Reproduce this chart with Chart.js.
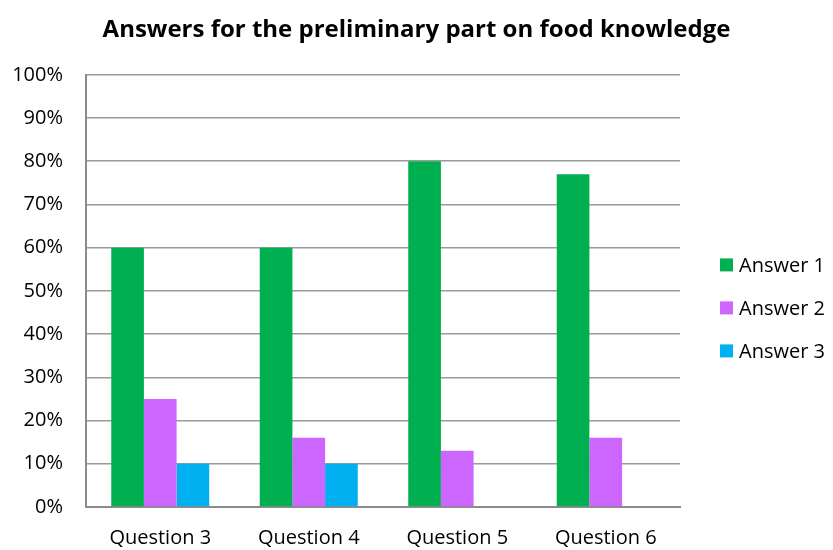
<!DOCTYPE html>
<html>
<head>
<meta charset="utf-8">
<script src="https://cdn.jsdelivr.net/npm/chart.js@4.4.0/dist/chart.umd.min.js"></script>
<style>
  html, body { margin: 0; padding: 0; background: #fff; }
  #wrap { width: 833px; height: 550px; }
</style>
</head>
<body>
<div id="wrap"><canvas id="foodChart"></canvas></div>
<script>
const questions = ['Question 3', 'Question 4', 'Question 5', 'Question 6'];
const answer1 = [60, 60, 80, 77];
const answer2 = [25, 16, 13, 16];
const answer3 = [10, 10, 0, 0];

Chart.defaults.font.family = "'Open Sans', 'Liberation Sans', sans-serif";
Chart.defaults.color = 'black';

// legend drawn by hand to the right of the plot, square swatches
const sideLegend = {
    id: 'sideLegend',
    afterDraw(chart, args, options) {
        const { ctx, chartArea } = chart;
        const x = chartArea.right + options.gap;
        const midY = (chartArea.top + chartArea.bottom) / 2 + options.offsetY;
        const n = chart.data.datasets.length;
        ctx.save();
        ctx.font = options.fontSize + 'px ' + Chart.defaults.font.family;
        ctx.textBaseline = 'middle';
        ctx.textAlign = 'left';
        chart.data.datasets.forEach((ds, i) => {
            const y = midY + (i - (n - 1) / 2) * options.step;
            ctx.fillStyle = ds.backgroundColor;
            ctx.fillRect(x, y - options.box / 2, options.box, options.box);
            ctx.fillStyle = 'black';
            ctx.fillText(ds.label, x + options.box + 6, y + 1);
        });
        ctx.restore();
    }
};

const ctx = document.getElementById('foodChart');
const myChart = new Chart(ctx, {
    type: 'bar',
    data: {
        labels: questions,
        datasets: [{
            label: 'Answer 1',
            data: answer1,
            backgroundColor: '#00B050'
        },
        {
            label: 'Answer 2',
            data: answer2,
            backgroundColor: '#CC66FF'
        },
        {
            label: 'Answer 3',
            data: answer3,
            backgroundColor: '#00B0F0'
        }]
    },
    options: {
        responsive: true,
        maintainAspectRatio: false,
        animation: false,
        layout: {
            padding: 0
        },
        datasets: {
            bar: {
                categoryPercentage: 0.66,
                barPercentage: 1
            }
        },
        scales: {
            x: {
                afterFit(scale) {
                    scale.height = 43;
                },
                grid: { display: false, drawTicks: false },
                border: { color: '#8c8c8c', width: 2 },
                ticks: {
                    padding: 21,
                    font: { size: 20, lineHeight: 1 }
                }
            },
            y: {
                min: 0,
                max: 100,
                afterFit(scale) {
                    scale.width = 86;
                },
                ticks: {
                    stepSize: 10,
                    padding: 23,
                    font: { size: 20 },
                    callback: v => v + '%'
                },
                grid: { color: '#9a9a9a', lineWidth: 1.5, drawTicks: false },
                border: { color: '#8c8c8c', width: 2 }
            },
            // empty right-hand axis, only reserves room for the legend
            legendSpace: {
                type: 'linear',
                position: 'right',
                display: true,
                afterFit(scale) {
                    scale.width = 153;
                },
                ticks: { display: false },
                grid: { display: false, drawTicks: false },
                border: { display: false }
            }
        },
        plugins: {
            title: {
                display: true,
                text: 'Answers for the preliminary part on food knowledge',
                font: { size: 24, weight: 'bold' },
                padding: { top: 16, bottom: 30 }
            },
            legend: { display: false },
            tooltip: { enabled: false },
            sideLegend: {
                gap: 40,
                offsetY: 17,
                step: 43,
                box: 13,
                fontSize: 20
            }
        }
    },
    plugins: [sideLegend]
});
</script>
</body>
</html>
